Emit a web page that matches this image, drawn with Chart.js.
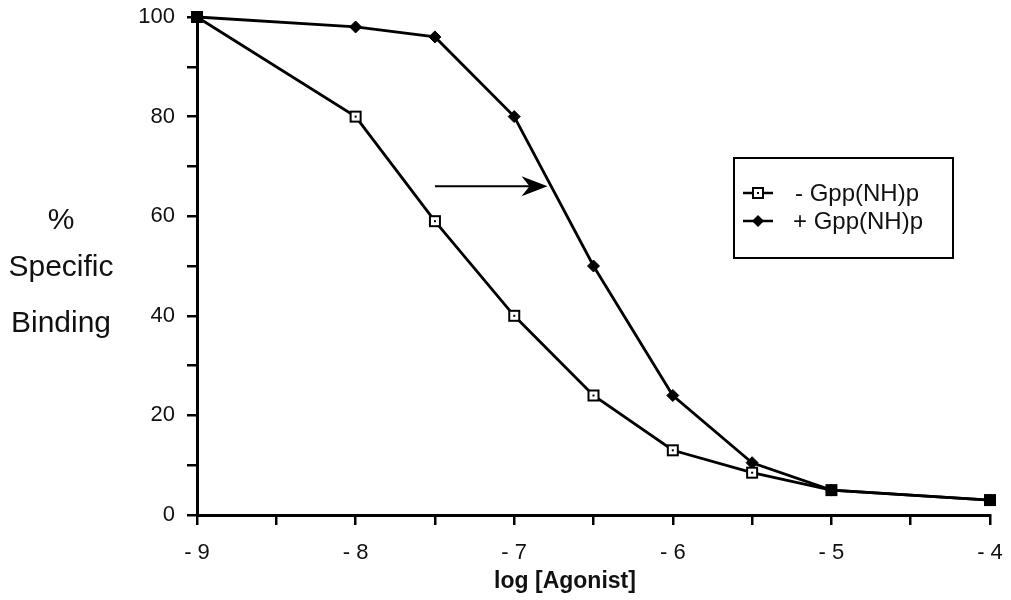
<!DOCTYPE html>
<html>
<head>
<meta charset="utf-8">
<script src="https://cdn.jsdelivr.net/npm/chart.js@4/dist/chart.umd.min.js"></script>
<style>
  html, body { margin: 0; padding: 0; background: #fff; }
  #wrap { width: 1011px; height: 600px; position: relative; }
</style>
</head>
<body>
<div id="wrap"><canvas id="c" width="1011" height="600"></canvas></div>
<script>
// ---- data ----
const logAgonist = [-9, -8, -7.5, -7, -6.5, -6, -5.5, -5, -4];
const minusGpp = [100, 80, 59, 40, 24, 13, 8.5, 5, 3];
const plusGpp  = [100, 98, 96, 80, 50, 24, 10.5, 5, 3];
const seriesLabels = ['- Gpp(NH)p', '+ Gpp(NH)p'];
const xTickLabelsAt = [-9, -8, -7, -6, -5, -4];
const yTickLabelsAt = [0, 20, 40, 60, 80, 100];
const yTitleLines = ['%', 'Specific', 'Binding'];
const xTitle = 'log [Agonist]';
const arrowFrom = [-7.5, 66];
const arrowTo = [-6.79, 66];

const FONT = '"Liberation Sans", Arial, Helvetica, sans-serif';

function makeSquare(filled) {
  const c = document.createElement('canvas');
  c.width = 14; c.height = 14;
  const g = c.getContext('2d');
  if (filled) {
    g.fillStyle = '#000';
    g.fillRect(1, 1, 12, 12);
  } else {
    g.fillStyle = '#fff';
    g.fillRect(1, 1, 12, 12);
    g.strokeStyle = '#000';
    g.lineWidth = 2;
    g.strokeRect(2, 2, 10, 10);
    g.fillStyle = '#000';
    g.fillRect(6, 6, 2, 2);
  }
  return c;
}
const openSq = makeSquare(false);
const filledSq = makeSquare(true);

const pts = (vals) => logAgonist.map((x, i) => ({ x: x, y: vals[i] }));

const overlayPlugin = {
  id: 'overlay',
  afterDraw(chart) {
    const ctx = chart.ctx;
    const xs = chart.scales.x, ys = chart.scales.y;
    ctx.save();
    // arrow
    const x1 = xs.getPixelForValue(arrowFrom[0]), y1 = ys.getPixelForValue(arrowFrom[1]);
    const x2 = xs.getPixelForValue(arrowTo[0]),  y2 = ys.getPixelForValue(arrowTo[1]);
    ctx.strokeStyle = '#000'; ctx.fillStyle = '#000'; ctx.lineWidth = 2;
    ctx.beginPath(); ctx.moveTo(x1, y1); ctx.lineTo(x2 - 8, y2); ctx.stroke();
    ctx.beginPath();
    ctx.moveTo(x2, y2);
    ctx.lineTo(x2 - 26, y2 - 10);
    ctx.lineTo(x2 - 18, y2);
    ctx.lineTo(x2 - 26, y2 + 10);
    ctx.closePath(); ctx.fill();

    // y title lines
    ctx.fillStyle = '#111';
    ctx.font = '30px ' + FONT;
    ctx.textAlign = 'center'; ctx.textBaseline = 'alphabetic';
    const yTitleBase = [229, 276, 332];
    yTitleLines.forEach((t, i) => ctx.fillText(t, 61, yTitleBase[i]));

    // x title
    ctx.font = 'bold 23px ' + FONT;
    ctx.fillText(xTitle, 565, 588);

    // legend
    const lx = 734, ly = 158, lw = 219, lh = 100;
    ctx.lineWidth = 2; ctx.strokeStyle = '#000';
    ctx.strokeRect(lx, ly, lw, lh);
    const rows = [ly + 35, ly + 63];
    ctx.font = '24px ' + FONT; ctx.textAlign = 'left'; ctx.textBaseline = 'middle';
    chart.data.datasets.forEach((ds, i) => {
      const cy = rows[i];
      ctx.lineWidth = 2.5; ctx.fillStyle = '#000';
      ctx.beginPath(); ctx.moveTo(743, cy); ctx.lineTo(773, cy); ctx.stroke();
      if (i === 0) {
        ctx.drawImage(openSq, 758 - 7, cy - 7);
      } else {
        ctx.beginPath();
        ctx.moveTo(758, cy - 6); ctx.lineTo(764, cy); ctx.lineTo(758, cy + 6); ctx.lineTo(752, cy);
        ctx.closePath(); ctx.fill();
      }
      ctx.fillStyle = '#111';
      ctx.fillText(seriesLabels[i], i === 0 ? 795 : 793, cy + 1);
    });
    ctx.restore();
  }
};

new Chart(document.getElementById('c'), {
  type: 'line',
  data: {
    datasets: [
      {
        label: seriesLabels[0],
        data: pts(minusGpp),
        borderColor: '#000',
        borderWidth: 2.8,
        pointStyle: (c) => (minusGpp[c.dataIndex] === plusGpp[c.dataIndex]) ? filledSq : openSq,
        pointRadius: 7,
        clip: false,
        order: 1
      },
      {
        label: seriesLabels[1],
        data: pts(plusGpp),
        borderColor: '#000',
        backgroundColor: '#000',
        borderWidth: 2.8,
        pointStyle: 'rectRot',
        pointRadius: 6,
        pointBorderWidth: 1,
        pointBackgroundColor: '#000',
        clip: false,
        order: 2
      }
    ]
  },
  options: {
    responsive: false,
    animation: false,
    devicePixelRatio: 1,
    layout: { padding: { top: 17, right: 21, left: 0, bottom: 0 } },
    plugins: { legend: { display: false }, tooltip: { enabled: false } },
    scales: {
      x: {
        type: 'linear',
        min: -9, max: -4,
        afterFit: (s) => { s.height = 85; s.paddingLeft = 0; s.paddingRight = 0; },
        ticks: {
          stepSize: 0.5,
          autoSkip: false,
          maxRotation: 0,
          padding: 15,
          color: '#111',
          font: { family: FONT, size: 22 },
          callback: (v) => xTickLabelsAt.includes(v) ? '- ' + Math.abs(v) : ''
        },
        grid: { drawOnChartArea: false, drawTicks: true, tickLength: 10, color: '#000', lineWidth: 2.5 },
        border: { display: true, color: '#000', width: 3 }
      },
      y: {
        min: 0, max: 100,
        afterFit: (s) => { s.width = 197; s.paddingTop = 0; s.paddingBottom = 0; },
        ticks: {
          stepSize: 10,
          autoSkip: false,
          padding: 12,
          color: '#111',
          font: { family: FONT, size: 22 },
          callback: (v) => yTickLabelsAt.includes(v) ? String(v) : ''
        },
        grid: { drawOnChartArea: false, drawTicks: true, tickLength: 10, color: '#000', lineWidth: 2.5 },
        border: { display: true, color: '#000', width: 3 }
      }
    }
  },
  plugins: [overlayPlugin]
});
</script>
</body>
</html>
